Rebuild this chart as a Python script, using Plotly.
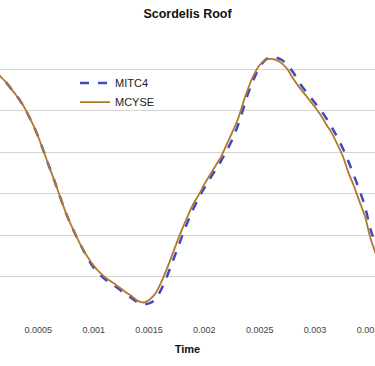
import plotly.graph_objects as go

time = [i * 0.00005 for i in range(2, 72)]

mcyse = [0.201, 0.185, 0.172, 0.155, 0.138, 0.119, 0.095, 0.068, 0.037, 0.001,
         -0.036, -0.072, -0.110, -0.147, -0.178, -0.207, -0.233, -0.255, -0.274, -0.289,
         -0.301, -0.311, -0.320, -0.330, -0.340, -0.349, -0.359, -0.363, -0.357, -0.344,
         -0.320, -0.289, -0.255, -0.219, -0.185, -0.154, -0.125, -0.103, -0.077, -0.055,
         -0.033, -0.011, 0.018, 0.047, 0.078, 0.119, 0.158, 0.189, 0.211, 0.223,
         0.226, 0.223, 0.215, 0.201, 0.179, 0.160, 0.143, 0.126, 0.109, 0.090,
         0.068, 0.047, 0.020, -0.009, -0.048, -0.081, -0.118, -0.154, -0.207, -0.246]

mitc4 = [0.201, 0.185, 0.172, 0.155, 0.138, 0.119, 0.095, 0.068, 0.037, 0.001,
         -0.036, -0.072, -0.110, -0.147, -0.178, -0.207, -0.233, -0.258, -0.279, -0.294,
         -0.306, -0.316, -0.325, -0.335, -0.344, -0.354, -0.363, -0.367, -0.365, -0.357,
         -0.337, -0.308, -0.274, -0.238, -0.202, -0.168, -0.137, -0.110, -0.086, -0.064,
         -0.043, -0.021, 0.003, 0.030, 0.063, 0.104, 0.146, 0.179, 0.206, 0.223,
         0.230, 0.229, 0.223, 0.211, 0.194, 0.172, 0.153, 0.136, 0.119, 0.102,
         0.083, 0.061, 0.037, 0.010, -0.021, -0.055, -0.091, -0.130, -0.185, -0.226]

x_ticks = [0.0005, 0.001, 0.0015, 0.002, 0.0025, 0.003, 0.0035]
x_tick_labels = ["0.0005", "0.001", "0.0015", "0.002", "0.0025", "0.003", "0.0035"]
y_grid = [-0.4, -0.3, -0.2, -0.1, 0.0, 0.1, 0.2, 0.3]

fig = go.Figure()
fig.add_trace(go.Scatter(x=time, y=mitc4, name="MITC4", mode="lines",
                         line=dict(color="#4149c0", width=2.5, dash="dash", shape="spline")))
fig.add_trace(go.Scatter(x=time, y=mcyse, name="MCYSE", mode="lines",
                         line=dict(color="#b07a2a", width=1.8, shape="spline")))

fig.update_layout(
    width=375, height=366,
    margin=dict(l=0, r=0, t=28, b=48, autoexpand=False),
    paper_bgcolor="white", plot_bgcolor="white",
    font=dict(family="Liberation Sans, Arial, sans-serif", color="#444"),
    title=dict(text="<b>Scordelis Roof</b>", x=0.5, xanchor="center",
               y=1 - 14 / 366, yref="container", yanchor="middle",
               font=dict(size=12.5, color="#111")),
    xaxis=dict(range=[0.000154, 0.0035415], tickvals=x_ticks, ticktext=x_tick_labels,
               showgrid=False, zeroline=False, showline=False, automargin=False,
               ticklabeloverflow="allow", ticks="outside", ticklen=3, tickcolor="rgba(0,0,0,0)",
               tickfont=dict(size=9, color="#444"),
               title=dict(text="<b>Time</b>", font=dict(size=11, color="#111"), standoff=11)),
    yaxis=dict(range=[-0.4005, 0.3005], tickvals=y_grid, showticklabels=False, showgrid=True,
               gridcolor="#d4d4d4", gridwidth=1, zeroline=False, showline=False, automargin=False),
    legend=dict(x=0.2, y=0.86, xanchor="left", yanchor="top", bgcolor="rgba(0,0,0,0)",
                font=dict(size=11, color="#222"), tracegroupgap=0),
    showlegend=True,
)

fig.write_html("out.html", config={"displayModeBar": False},
               post_script="document.body.style.margin='0';")
